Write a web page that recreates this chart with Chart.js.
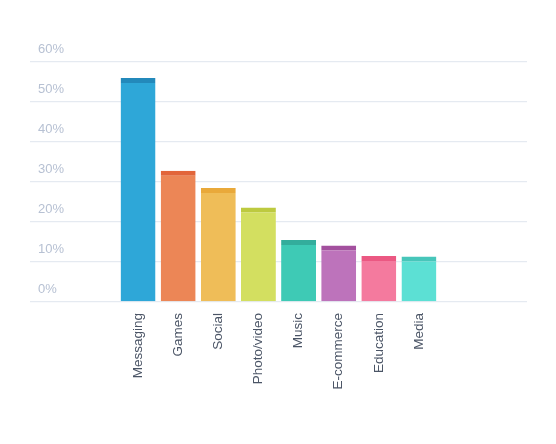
<!DOCTYPE html>
<html>
<head>
<meta charset="utf-8">
<script src="https://cdn.jsdelivr.net/npm/chart.js@4"></script>
<style>
  html, body { margin: 0; padding: 0; background: #fff; }
  #wrap { width: 556px; height: 444px; }
</style>
</head>
<body>
<div id="wrap"><canvas id="appChart"></canvas></div>
<script>
// Data
const categories = ['Messaging', 'Games', 'Social', 'Photo/video', 'Music', 'E-commerce', 'Education', 'Media'];
const shares = [56, 32.8, 28.5, 23.6, 15.5, 14.1, 11.5, 11.4];
const yTicks = [0, 10, 20, 30, 40, 50, 60];

const fillColors = ['#2ea7d8', '#ec8656', '#efbd58', '#d3df60', '#3ecab5', '#bd73bb', '#f47a9e', '#5ce0d4'];
const capColors  = ['#2389bb', '#e2653a', '#e9a93a', '#bdca3f', '#33ad9c', '#a3509e', '#eb5882', '#47c6ba'];

const gridColor = '#e5eaf1';
const font = "'Liberation Sans', Arial, Helvetica, sans-serif";

const ctx = document.getElementById('appChart').getContext('2d');
const appChart = new Chart(ctx, {
    type: 'bar',
    data: {
        labels: categories,
        datasets: [{
            data: shares,
            backgroundColor: fillColors,
            borderColor: capColors,
            borderWidth: { top: 5, left: 0, right: 0, bottom: 0 },
            borderSkipped: 'bottom',
            barPercentage: 0.87,
            categoryPercentage: 1
        }]
    },
    options: {
        responsive: true,
        maintainAspectRatio: false,
        animation: false,
        layout: { padding: { left: 38, right: 0, top: 62, bottom: 0 } },
        plugins: { legend: { display: false }, tooltip: { enabled: false } },
        scales: {
            x: {
                grid: { display: false, drawTicks: false },
                border: { display: false },
                ticks: {
                    minRotation: 90,
                    maxRotation: 90,
                    padding: 11,
                    color: '#4b5566',
                    font: { family: font, size: 13.5 }
                },
                afterFit: function(scale) { scale.height = 142; }
            },
            y: {
                min: 0,
                max: 60,
                afterBuildTicks: function(scale) {
                    scale.ticks = yTicks.map(v => ({ value: v }));
                },
                grid: { color: gridColor, lineWidth: 1.3, tickLength: 88, tickColor: gridColor },
                border: { display: false },
                ticks: {
                    crossAlign: 'far',
                    labelOffset: -13,
                    color: '#b7c1d3',
                    font: { family: font, size: 13 },
                    callback: function(v) { return v + '%'; }
                },
                afterFit: function(scale) { scale.width = 80; }
            },
            yRight: {
                position: 'right',
                min: 0,
                max: 60,
                afterBuildTicks: function(scale) {
                    scale.ticks = yTicks.map(v => ({ value: v }));
                },
                grid: { drawOnChartArea: false, tickLength: 88, tickColor: gridColor, lineWidth: 1.3 },
                border: { display: false },
                ticks: { display: false },
                afterFit: function(scale) { scale.width = 117; }
            }
        }
    }
});
</script>
</body>
</html>
